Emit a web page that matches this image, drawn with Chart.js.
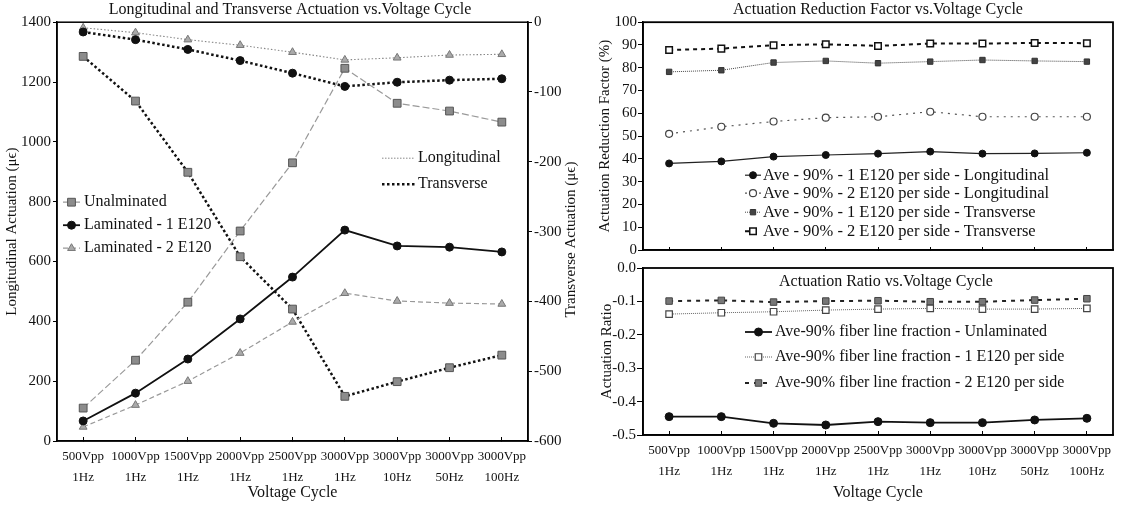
<!DOCTYPE html>
<html>
<head>
<meta charset="utf-8">
<script src="https://cdn.jsdelivr.net/npm/chart.js@4.4.0/dist/chart.umd.min.js"></script>
<style>
  body { margin: 0; background: #fff; }
  #wrap { position: relative; width: 1127px; height: 508px; overflow: hidden; }
  canvas { position: absolute; }
</style>
</head>
<body>
<div id="wrap">
  <canvas id="actuation" width="580" height="508" style="left:0;top:0"></canvas>
  <canvas id="reduction" width="547" height="262" style="left:580px;top:0"></canvas>
  <canvas id="ratio" width="547" height="254" style="left:580px;top:254px"></canvas>
</div>
<script>
// voltage cycle categories (two-line tick labels)
const voltages = ['500Vpp', '1000Vpp', '1500Vpp', '2000Vpp', '2500Vpp', '3000Vpp', '3000Vpp', '3000Vpp', '3000Vpp'];
const freqs = ['1Hz', '1Hz', '1Hz', '1Hz', '1Hz', '1Hz', '10Hz', '50Hz', '100Hz'];

// longitudinal actuation, left axis (µε)
const longUnlam = [110, 270, 464, 702, 930, 1246, 1129, 1103, 1066];
const longLam1 = [67, 160, 274, 408, 548, 705, 652, 648, 632];
const longLam2 = [47, 120, 200, 294, 398, 494, 468, 461, 458];

// transverse actuation, right axis (µε)
const transUnlam = [-49, -113, -215, -336, -411, -536, -515, -495, -477];
const transLam1 = [-14, -25, -39, -55, -73, -92, -86, -83, -81];
const transLam2 = [-8, -15, -25, -33, -43, -54, -51, -47, -46];

// actuation reduction factor (%)
const redLong1 = [38, 38.9, 41, 41.7, 42.3, 43.2, 42.3, 42.4, 42.7];
const redLong2 = [51, 54.1, 56.4, 58.1, 58.5, 60.7, 58.5, 58.5, 58.5];
const redTrans1 = [78.2, 78.9, 82.3, 83, 82, 82.7, 83.4, 83, 82.7];
const redTrans2 = [87.8, 88.4, 89.9, 90.3, 89.6, 90.6, 90.6, 90.9, 90.8];

// actuation ratio
const ratioUnlam = [-0.445, -0.445, -0.465, -0.47, -0.46, -0.463, -0.463, -0.455, -0.45];
const ratioLam1 = [-0.138, -0.134, -0.131, -0.126, -0.123, -0.121, -0.123, -0.123, -0.121];
const ratioLam2 = [-0.099, -0.097, -0.102, -0.099, -0.098, -0.101, -0.101, -0.096, -0.092];

const categories = voltages.map((v, i) => [v, freqs[i]]);

const serif = "'Liberation Serif', 'Times New Roman', serif";
const ink = '#111';
Chart.defaults.font.family = serif;
Chart.defaults.color = ink;

function drawMarker(ctx, ds, x, y) {
  const r = ds.pointRadius;
  ctx.save();
  ctx.setLineDash([]);
  ctx.fillStyle = ds.pointBackgroundColor;
  ctx.strokeStyle = ds.pointBorderColor;
  ctx.lineWidth = ds.pointBorderWidth;
  ctx.beginPath();
  if (ds.pointStyle === 'rect') {
    const s = r * Math.SQRT1_2;
    ctx.rect(x - s, y - s, 2 * s, 2 * s);
  } else if (ds.pointStyle === 'triangle') {
    let a = 0;
    ctx.moveTo(x + Math.sin(a) * r, y - Math.cos(a) * r);
    a += Math.PI * 2 / 3;
    ctx.lineTo(x + Math.sin(a) * r, y - Math.cos(a) * r);
    a += Math.PI * 2 / 3;
    ctx.lineTo(x + Math.sin(a) * r, y - Math.cos(a) * r);
    ctx.closePath();
  } else {
    ctx.arc(x, y, r, 0, Math.PI * 2);
  }
  ctx.fill();
  if (ds.pointBorderWidth) ctx.stroke();
  ctx.restore();
}

// box around the plot area
const framePlugin = {
  id: 'frame',
  afterDraw(chart, args, opts) {
    const {ctx, chartArea: a} = chart;
    ctx.save();
    ctx.strokeStyle = '#000';
    ctx.lineWidth = opts.width || 1.5;
    ctx.strokeRect(a.left, a.top, a.right - a.left, a.bottom - a.top);
    ctx.restore();
  }
};

// legend entries placed inside the plot area
const keyPlugin = {
  id: 'key',
  afterDatasetsDraw(chart, args, opts) {
    const {ctx, chartArea: a} = chart;
    ctx.save();
    ctx.font = opts.font;
    ctx.fillStyle = ink;
    ctx.textBaseline = 'middle';
    opts.items.forEach(it => {
      const ds = it.ds !== undefined ? chart.data.datasets[it.ds] : null;
      const line = it.line || ds;
      const x0 = a.left + it.x;
      const y = a.top + it.y;
      ctx.save();
      ctx.strokeStyle = line.borderColor;
      ctx.lineWidth = line.borderWidth;
      ctx.setLineDash(line.borderDash || []);
      ctx.beginPath();
      ctx.moveTo(x0, y);
      ctx.lineTo(x0 + it.len, y);
      ctx.stroke();
      ctx.restore();
      if (ds) drawMarker(ctx, ds, x0 + it.len / 2, y);
      ctx.fillText(it.text, a.left + it.tx, y);
    });
    ctx.restore();
  }
};

// extra captions: right axis title and in-plot title
const notePlugin = {
  id: 'note',
  afterDraw(chart, args, opts) {
    const {ctx, chartArea: a} = chart;
    ctx.save();
    ctx.fillStyle = ink;
    ctx.textAlign = 'center';
    ctx.textBaseline = 'middle';
    (opts.items || []).forEach(n => {
      ctx.font = n.font;
      ctx.save();
      if (n.scale) {
        const s = chart.scales[n.scale];
        ctx.translate(s.right - n.inset, (a.top + a.bottom) / 2 + (n.shift || 0));
        ctx.rotate(-Math.PI / 2);
      } else {
        ctx.translate((a.left + a.right) / 2 + (n.shift || 0), a.top + n.inset);
      }
      ctx.fillText(n.text, 0, 0);
      ctx.restore();
    });
    ctx.restore();
  }
};

const tickFont = {family: serif, size: 15};
const catFont = {family: serif, size: 13, lineHeight: 1.6};
const axisGrid = {drawOnChartArea: false, color: '#000', tickLength: 4};
const axisBorder = {color: '#000', width: 1.5};
const plain = v => String(v);

function baseOptions() {
  return {
    responsive: false,
    animation: false,
    events: [],
    plugins: {legend: {display: false}, tooltip: {enabled: false}},
    elements: {line: {tension: 0}}
  };
}

// ---- longitudinal and transverse actuation ----
const opt1 = baseOptions();
opt1.plugins.title = {
  display: true, text: 'Longitudinal and Transverse Actuation vs.Voltage Cycle',
  font: {family: serif, size: 16, weight: 'normal'}, color: ink, padding: {top: 0, bottom: 3}
};
opt1.plugins.frame = {width: 1.5};
opt1.plugins.key = {
  font: '16px ' + serif,
  items: [
    {ds: 0, x: 6, len: 17, tx: 27, y: 180, text: 'Unalminated'},
    {ds: 1, x: 6, len: 17, tx: 27, y: 203, text: 'Laminated - 1 E120'},
    {ds: 2, x: 6, len: 17, tx: 27, y: 226, text: 'Laminated - 2 E120'},
    {line: {borderColor: '#888', borderWidth: 1, borderDash: [1.5, 1.5]}, x: 325, len: 33, tx: 361, y: 136, text: 'Longitudinal'},
    {line: {borderColor: '#111', borderWidth: 2.5, borderDash: [2.5, 2.5]}, x: 325, len: 33, tx: 361, y: 162, text: 'Transverse'}
  ]
};
opt1.plugins.note = {items: [{scale: 'y1', inset: 9, shift: 8, font: '15px ' + serif, text: 'Transverse Actuation (μϵ)'}]};
opt1.scales = {
  x: {
    offset: true,
    grid: {drawOnChartArea: false, color: '#000', tickLength: -4},
    border: axisBorder,
    ticks: {font: catFont, color: ink, padding: 9, maxRotation: 0, autoSkip: false},
    title: {display: true, text: 'Voltage Cycle', font: {family: serif, size: 16}, color: ink, padding: {bottom: 6}},
    afterFit: s => { s.height = 67; }
  },
  y: {
    position: 'left', min: 0, max: 1400,
    ticks: {stepSize: 200, font: tickFont, color: ink, padding: 2, callback: plain},
    grid: axisGrid, border: axisBorder,
    title: {display: true, text: 'Longitudinal Actuation (μϵ)', font: {family: serif, size: 15}, color: ink, padding: {top: 3}},
    afterFit: s => { s.width = 57; }
  },
  y1: {
    position: 'right', min: -600, max: 0,
    ticks: {stepSize: 100, font: tickFont, color: ink, padding: 2, callback: plain},
    grid: axisGrid, border: axisBorder,
    afterFit: s => { s.width = 52; }
  }
};

new Chart(document.getElementById('actuation'), {
  type: 'line',
  data: {
    labels: categories,
    datasets: [
      {label: 'Unalminated', data: longUnlam, yAxisID: 'y', borderColor: '#999', borderWidth: 1.2, borderDash: [7, 3],
        pointStyle: 'rect', pointRadius: 5.5, pointBackgroundColor: '#8c8c8c', pointBorderColor: '#555', pointBorderWidth: 1},
      {label: 'Laminated - 1 E120', data: longLam1, yAxisID: 'y', borderColor: '#111', borderWidth: 1.8,
        pointStyle: 'circle', pointRadius: 4, pointBackgroundColor: '#111', pointBorderColor: '#111', pointBorderWidth: 1},
      {label: 'Laminated - 2 E120', data: longLam2, yAxisID: 'y', borderColor: '#999', borderWidth: 1.2, borderDash: [5, 3],
        pointStyle: 'triangle', pointRadius: 4.5, pointBackgroundColor: '#aaa', pointBorderColor: '#777', pointBorderWidth: 1},
      {label: 'Unalminated (T)', data: transUnlam, yAxisID: 'y1', borderColor: '#111', borderWidth: 2.5, borderDash: [2.5, 2.5],
        pointStyle: 'rect', pointRadius: 5.5, pointBackgroundColor: '#8c8c8c', pointBorderColor: '#555', pointBorderWidth: 1},
      {label: 'Laminated - 1 E120 (T)', data: transLam1, yAxisID: 'y1', borderColor: '#111', borderWidth: 2.5, borderDash: [2.5, 2.5],
        pointStyle: 'circle', pointRadius: 4, pointBackgroundColor: '#111', pointBorderColor: '#111', pointBorderWidth: 1},
      {label: 'Laminated - 2 E120 (T)', data: transLam2, yAxisID: 'y1', borderColor: '#888', borderWidth: 1.1, borderDash: [1.5, 2],
        pointStyle: 'triangle', pointRadius: 4.5, pointBackgroundColor: '#aaa', pointBorderColor: '#777', pointBorderWidth: 1}
    ]
  },
  options: opt1,
  plugins: [framePlugin, keyPlugin, notePlugin]
});

// ---- actuation reduction factor ----
const opt2 = baseOptions();
opt2.layout = {padding: {right: 14}};
opt2.plugins.title = {
  display: true, fullSize: false, text: 'Actuation Reduction Factor vs.Voltage Cycle',
  font: {family: serif, size: 16, weight: 'normal'}, color: ink, padding: {top: 0, bottom: 3}
};
opt2.plugins.frame = {width: 1.8};
opt2.plugins.key = {
  font: '16.5px ' + serif,
  items: [
    {ds: 0, x: 102, len: 16, tx: 120, y: 153, text: 'Ave - 90% - 1 E120 per side - Longitudinal'},
    {ds: 1, x: 102, len: 16, tx: 120, y: 171, text: 'Ave - 90% - 2 E120 per side - Longitudinal'},
    {ds: 2, x: 102, len: 16, tx: 120, y: 190, text: 'Ave - 90% - 1 E120 per side - Transverse'},
    {ds: 3, x: 102, len: 16, tx: 120, y: 209, text: 'Ave - 90% - 2 E120 per side - Transverse'}
  ]
};
opt2.scales = {
  x: {
    offset: true,
    grid: {drawOnChartArea: false, color: '#000', tickLength: -3},
    border: axisBorder,
    ticks: {display: false},
    afterFit: s => { s.height = 12; }
  },
  y: {
    min: 0, max: 100,
    ticks: {stepSize: 10, font: tickFont, color: ink, padding: 1, callback: plain},
    grid: {drawOnChartArea: false, color: '#000', tickLength: 5}, border: axisBorder,
    title: {display: true, text: 'Actuation Reduction Factor (%)', font: {family: serif, size: 15}, color: ink, padding: {top: 16}},
    afterFit: s => { s.width = 63; }
  }
};

new Chart(document.getElementById('reduction'), {
  type: 'line',
  data: {
    labels: categories,
    datasets: [
      {label: 'Ave - 90% - 1 E120 per side - Longitudinal', data: redLong1, borderColor: '#222', borderWidth: 1.2,
        pointStyle: 'circle', pointRadius: 3.5, pointBackgroundColor: '#111', pointBorderColor: '#111', pointBorderWidth: 1},
      {label: 'Ave - 90% - 2 E120 per side - Longitudinal', data: redLong2, borderColor: '#555', borderWidth: 1.2, borderDash: [2, 5],
        pointStyle: 'circle', pointRadius: 3.5, pointBackgroundColor: '#fff', pointBorderColor: '#444', pointBorderWidth: 1.2},
      {label: 'Ave - 90% - 1 E120 per side - Transverse', data: redTrans1, borderColor: '#444', borderWidth: 1, borderDash: [1, 1],
        pointStyle: 'rect', pointRadius: 3.8, pointBackgroundColor: '#444', pointBorderColor: '#333', pointBorderWidth: 1},
      {label: 'Ave - 90% - 2 E120 per side - Transverse', data: redTrans2, borderColor: '#111', borderWidth: 2, borderDash: [4, 4],
        pointStyle: 'rect', pointRadius: 4.6, pointBackgroundColor: '#fff', pointBorderColor: '#111', pointBorderWidth: 1.5}
    ]
  },
  options: opt2,
  plugins: [framePlugin, keyPlugin]
});

// ---- actuation ratio ----
const opt3 = baseOptions();
opt3.layout = {padding: {top: 14, right: 14}};
opt3.plugins.frame = {width: 1.8};
opt3.plugins.key = {
  font: '16px ' + serif,
  items: [
    {ds: 0, x: 102, len: 27, tx: 132, y: 64, text: 'Ave-90% fiber line fraction - Unlaminated'},
    {ds: 1, x: 102, len: 27, tx: 132, y: 89, text: 'Ave-90% fiber line fraction - 1 E120 per side'},
    {ds: 2, x: 102, len: 27, tx: 132, y: 115, text: 'Ave-90% fiber line fraction - 2 E120 per side'}
  ]
};
opt3.plugins.note = {items: [{inset: 14, shift: 8, font: '16px ' + serif, text: 'Actuation Ratio vs.Voltage Cycle'}]};
opt3.scales = {
  x: {
    offset: true,
    grid: {drawOnChartArea: false, color: '#000', tickLength: -4},
    border: axisBorder,
    ticks: {font: catFont, color: ink, padding: 9, maxRotation: 0, autoSkip: false},
    title: {display: true, text: 'Voltage Cycle', font: {family: serif, size: 16}, color: ink, padding: {bottom: 6}},
    afterFit: s => { s.height = 73; }
  },
  y: {
    min: -0.5, max: 0,
    ticks: {stepSize: 0.1, font: tickFont, color: ink, padding: 1, callback: v => v.toFixed(1)},
    grid: {drawOnChartArea: false, color: '#000', tickLength: 6}, border: axisBorder,
    title: {display: true, text: 'Actuation Ratio', font: {family: serif, size: 15}, color: ink, padding: {top: 18}},
    afterFit: s => { s.width = 63; }
  }
};

new Chart(document.getElementById('ratio'), {
  type: 'line',
  data: {
    labels: categories,
    datasets: [
      {label: 'Ave-90% fiber line fraction - Unlaminated', data: ratioUnlam, borderColor: '#111', borderWidth: 1.8,
        pointStyle: 'circle', pointRadius: 4, pointBackgroundColor: '#111', pointBorderColor: '#111', pointBorderWidth: 1},
      {label: 'Ave-90% fiber line fraction - 1 E120 per side', data: ratioLam1, borderColor: '#666', borderWidth: 1, borderDash: [1, 1],
        pointStyle: 'rect', pointRadius: 4.6, pointBackgroundColor: '#fff', pointBorderColor: '#444', pointBorderWidth: 1.2},
      {label: 'Ave-90% fiber line fraction - 2 E120 per side', data: ratioLam2, borderColor: '#222', borderWidth: 2, borderDash: [4, 5],
        pointStyle: 'rect', pointRadius: 4.6, pointBackgroundColor: '#777', pointBorderColor: '#444', pointBorderWidth: 1}
    ]
  },
  options: opt3,
  plugins: [framePlugin, keyPlugin, notePlugin]
});
</script>
</body>
</html>
